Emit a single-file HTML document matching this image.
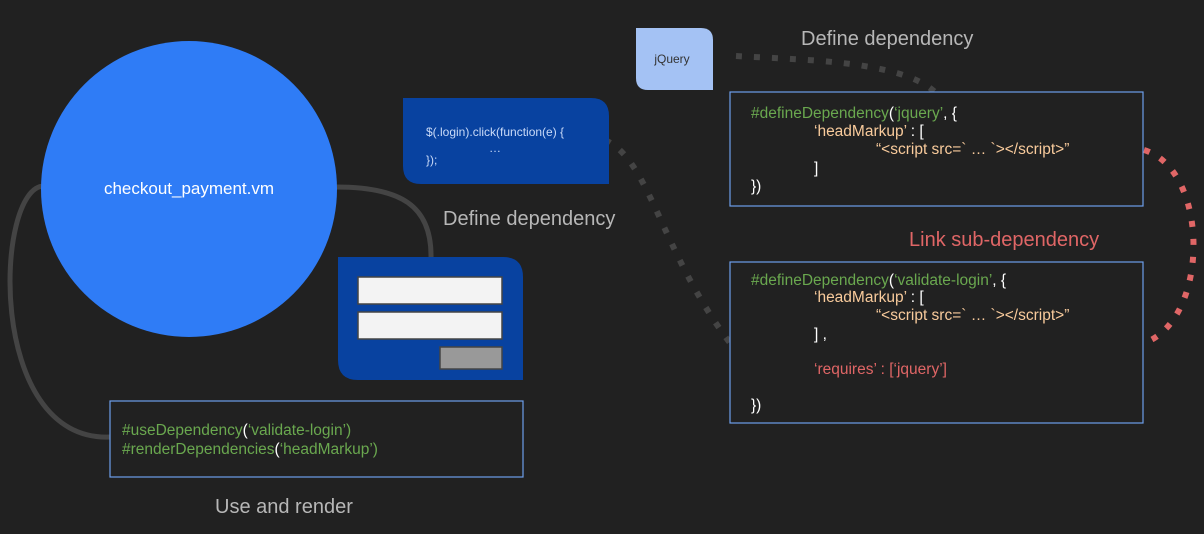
<!DOCTYPE html>
<html><head><meta charset="utf-8"><style>
html,body{margin:0;padding:0;background:#212121;}
svg{display:block;font-family:"Liberation Sans",Arial,sans-serif;}
</style></head><body>
<svg width="1204" height="534" viewBox="0 0 1204 534" xmlns="http://www.w3.org/2000/svg">
<rect width="1204" height="534" fill="#212121"/>
<!-- connectors -->
<path d="M44,186 C-5,186 -15,442 110,437" fill="none" stroke="#444" stroke-width="5"/>
<path d="M336,187 C400,187 432,205 431,258" fill="none" stroke="#444" stroke-width="5"/>
<path d="M605,140 C650,160 660,250 730,343" fill="none" stroke="#444" stroke-width="6" stroke-dasharray="6,12"/>
<path d="M736,56 C800,60 900,60 935,92" fill="none" stroke="#444" stroke-width="6" stroke-dasharray="6,12"/>
<path d="M1144,150 C1210,170 1210,320 1144,343" fill="none" stroke="#e06666" stroke-width="6" stroke-dasharray="6,12"/>
<!-- circle -->
<circle cx="189" cy="189" r="148" fill="#2f7cf6"/>
<text x="189" y="194" fill="#fff" font-size="17" text-anchor="middle">checkout_payment.vm</text>
<!-- form panel -->
<path d="M338,257 H503 Q523,257 523,277 V380 H358 Q338,380 338,360 Z" fill="#0842a0"/>
<rect x="358" y="277" width="144" height="27" fill="#f3f3f3" stroke="#444" stroke-width="1.5"/>
<rect x="358" y="312" width="144" height="27" fill="#f3f3f3" stroke="#444" stroke-width="1.5"/>
<rect x="440" y="347" width="62" height="22" fill="#999" stroke="#444" stroke-width="1.5"/>
<!-- jQuery -->
<path d="M636,28 H701 Q713,28 713,40 V90 H648 Q636,90 636,78 Z" fill="#a4c2f4"/>
<text x="672" y="63" fill="#333" font-size="12" text-anchor="middle">jQuery</text>
<!-- blue code box -->
<path d="M403,98 H591 Q609,98 609,116 V184 H421 Q403,184 403,166 Z" fill="#0842a0"/>
<g fill="#c9daf8" font-size="12">
<text x="426" y="136">$(.login).click(function(e) {</text>
<text x="489" y="152">…</text>
<text x="426" y="164">});</text>
</g>
<!-- labels -->
<g fill="#b7b7b7" font-size="20">
<text x="801" y="45">Define dependency</text>
<text x="443" y="225">Define dependency</text>
<text x="215" y="513">Use and render</text>
</g>
<text x="909" y="246" fill="#e06666" font-size="20">Link sub-dependency</text>
<!-- box1 -->
<rect x="730" y="92" width="413" height="114" fill="#212121" stroke="#6d9eeb" stroke-width="1.2"/>
<g font-size="15.5">
<text x="751" y="118"><tspan fill="#6aa84f">#defineDependency</tspan><tspan fill="#fff">(</tspan><tspan fill="#6aa84f">‘jquery’</tspan><tspan fill="#fff">, {</tspan></text>
<text x="814" y="136" fill="#f9cb9c">‘headMarkup’<tspan fill="#fff"> : [</tspan></text>
<text x="876" y="154" fill="#f9cb9c">“&lt;script src=` … `&gt;&lt;/script&gt;”</text>
<text x="814" y="173" fill="#fff">]</text>
<text x="751" y="191" fill="#fff">})</text>
</g>
<!-- box2 -->
<rect x="730" y="262" width="413" height="161" fill="#212121" stroke="#6d9eeb" stroke-width="1.2"/>
<g font-size="15.5">
<text x="751" y="285"><tspan fill="#6aa84f">#defineDependency</tspan><tspan fill="#fff">(</tspan><tspan fill="#6aa84f">‘validate-login’</tspan><tspan fill="#fff">, {</tspan></text>
<text x="814" y="302" fill="#f9cb9c">‘headMarkup’<tspan fill="#fff"> : [</tspan></text>
<text x="876" y="320" fill="#f9cb9c">“&lt;script src=` … `&gt;&lt;/script&gt;”</text>
<text x="814" y="339" fill="#fff">] ,</text>
<text x="814" y="374" fill="#e06666">‘requires’ : [‘jquery’]</text>
<text x="751" y="410" fill="#fff">})</text>
</g>
<!-- use box -->
<rect x="110" y="401" width="413" height="76" fill="#212121" stroke="#6d9eeb" stroke-width="1.2"/>
<g font-size="15.5" fill="#6aa84f">
<text x="122" y="435">#useDependency<tspan fill="#fff">(</tspan>‘validate-login’)</text>
<text x="122" y="454">#renderDependencies<tspan fill="#fff">(</tspan>‘headMarkup’)</text>
</g>
</svg>
</body></html>
